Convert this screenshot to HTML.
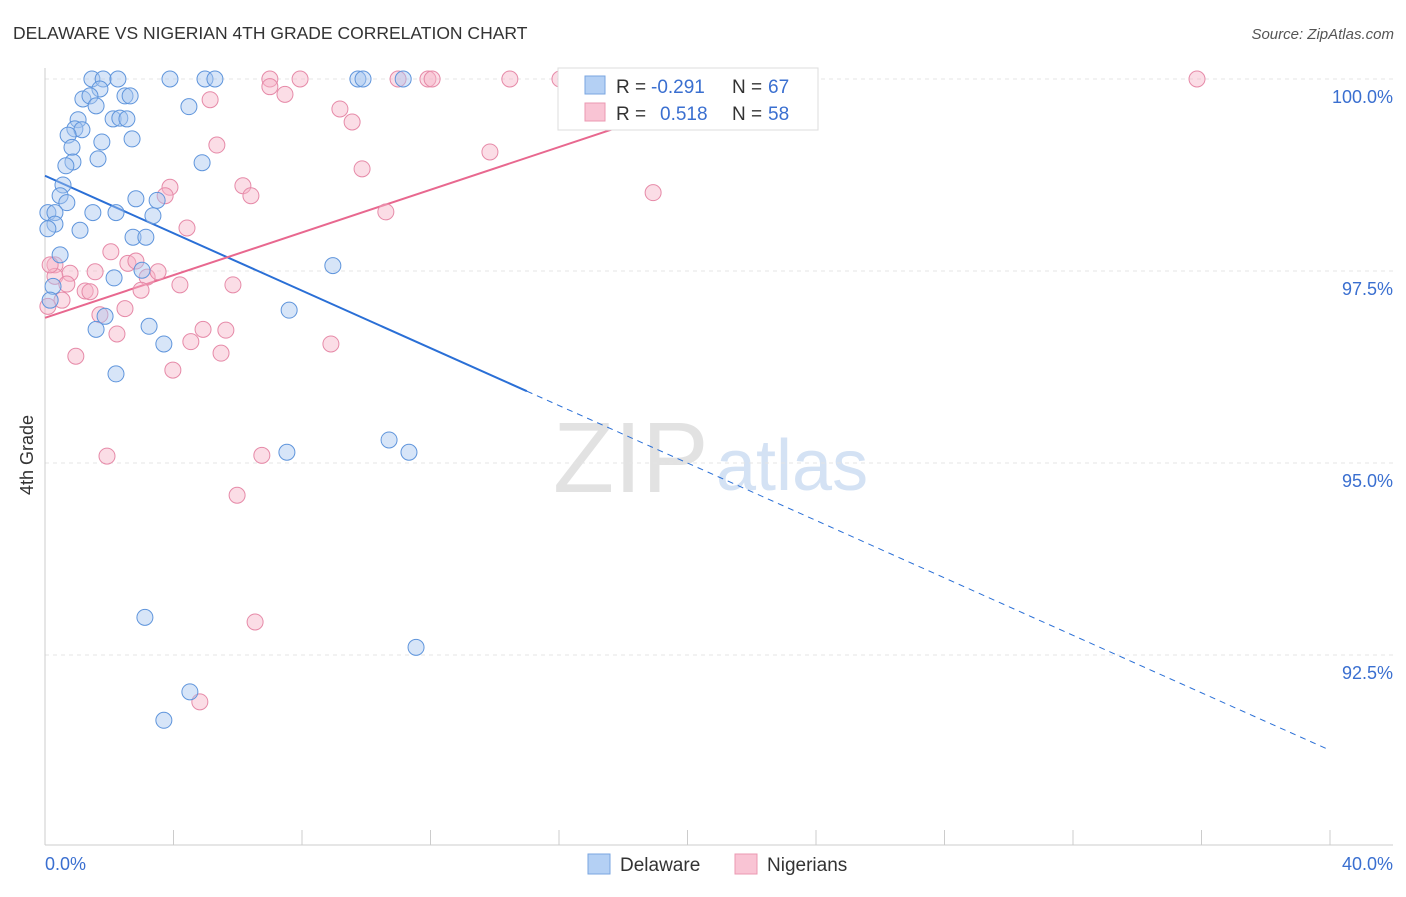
<!DOCTYPE html>
<html><head><meta charset="utf-8"><style>
body{margin:0;background:#fff;font-family:"Liberation Sans",sans-serif}
svg text{font-family:"Liberation Sans",sans-serif}
</style></head><body>
<svg id="c" width="1406" height="892" xmlns="http://www.w3.org/2000/svg">
<text x="13" y="39" font-size="17.5" fill="#333">DELAWARE VS NIGERIAN 4TH GRADE CORRELATION CHART</text>
<text x="1394" y="39" font-size="15" fill="#555" font-style="italic" text-anchor="end">Source: ZipAtlas.com</text>
<text x="33" y="455" font-size="18" fill="#333" transform="rotate(-90 33 455)" text-anchor="middle">4th Grade</text>
<g>
<text x="553" y="492" font-size="100" font-family="Liberation Serif,serif" fill="#e2e2e2">ZIP</text>
<text x="716" y="490" font-size="72" fill="#d4e2f4">atlas</text>
</g>
<g id="grid"></g><g id="axes"></g><g id="lines"></g><g id="pts"></g>
<g>
<rect x="558" y="68" width="260" height="62" fill="#fff" stroke="#ddd"/>
<rect x="585" y="76" width="20" height="18" fill="#b4d0f4" stroke="#7aa6e0"/>
<text x="616" y="93" font-size="19" fill="#333">R =</text>
<text x="651" y="93" font-size="19" fill="#3a6fd0">-0.291</text>
<text x="732" y="93" font-size="19" fill="#333">N =</text>
<text x="768" y="93" font-size="19" fill="#3a6fd0">67</text>
<rect x="585" y="103" width="20" height="18" fill="#f9c4d4" stroke="#eb98b2"/>
<text x="616" y="120" font-size="19" fill="#333">R =</text>
<text x="660" y="120" font-size="19" fill="#3a6fd0">0.518</text>
<text x="732" y="120" font-size="19" fill="#333">N =</text>
<text x="768" y="120" font-size="19" fill="#3a6fd0">58</text>
</g>
<g>
<rect x="588" y="854" width="22" height="20" fill="#b4d0f4" stroke="#7aa6e0"/>
<text x="620" y="871" font-size="19" fill="#333">Delaware</text>
<rect x="735" y="854" width="22" height="20" fill="#f9c4d4" stroke="#eb98b2"/>
<text x="767" y="871" font-size="19" fill="#333">Nigerians</text>
</g>
</svg>
<script>
const yTicks=[100,97.5,95,92.5];
const yTickLabels=["100.0%","97.5%","95.0%","92.5%"];
const xTickLabels=["0.0%","40.0%"];
const blueX=[1.46,1.81,2.27,3.89,4.98,5.29,9.74,9.90,11.15,1.71,1.18,1.40,1.59,2.49,2.65,4.48,1.03,2.12,2.33,2.55,0.93,1.15,0.72,0.84,1.77,2.71,1.65,0.87,0.65,4.89,0.56,0.47,0.68,0.09,0.31,1.49,2.21,2.83,3.49,3.36,0.31,1.09,0.09,2.74,3.14,0.47,3.02,2.15,8.96,0.25,7.60,3.24,1.59,1.87,3.70,2.21,10.71,11.33,7.53,3.11,11.55,4.51,3.70,0.16];
const blueY=[100,100,100,100,100,100,100,100,100,99.87,99.74,99.78,99.65,99.78,99.78,99.64,99.47,99.48,99.49,99.48,99.35,99.34,99.27,99.11,99.18,99.22,98.96,98.92,98.87,98.91,98.62,98.48,98.39,98.26,98.26,98.26,98.26,98.44,98.42,98.22,98.11,98.03,98.05,97.94,97.94,97.71,97.51,97.41,97.57,97.30,96.99,96.78,96.74,96.91,96.55,96.16,95.30,95.14,95.14,92.99,92.60,92.02,91.65,97.12];
const pinkX=[7.00,7.94,10.99,11.92,12.05,14.47,16.03,16.50,18.43,35.86,7.00,7.47,5.14,9.18,9.56,5.35,13.85,9.87,6.16,3.89,6.41,3.74,18.93,10.61,4.42,2.05,0.31,0.78,1.56,2.58,2.83,3.18,3.52,0.31,0.68,1.25,4.20,5.85,2.99,1.40,0.53,0.09,2.49,1.71,2.24,4.92,5.63,4.54,8.90,0.96,5.48,3.98,1.93,6.75,5.98,6.54,4.82,0.16];
const pinkY=[100,100,100,100,100,100,100,100,100,100,99.90,99.80,99.73,99.61,99.44,99.14,99.05,98.83,98.61,98.59,98.48,98.48,98.52,98.27,98.06,97.75,97.58,97.47,97.49,97.60,97.63,97.42,97.49,97.43,97.33,97.24,97.32,97.32,97.25,97.23,97.12,97.04,97.01,96.93,96.68,96.74,96.73,96.58,96.55,96.39,96.43,96.21,95.09,95.10,94.58,92.93,91.89,97.58];
const blueFit=[98.74,91.26];
const pinkFit=[96.89,0.139];
const NS="http://www.w3.org/2000/svg";
const X=v=>45+v*32.125, Y=v=>79+(100-v)*76.8;
function mk(t,a,p){const e=document.createElementNS(NS,t);for(const k in a)e.setAttribute(k,a[k]);p.appendChild(e);return e;}
const grid=document.getElementById('grid'),axes=document.getElementById('axes'),lines=document.getElementById('lines'),pts=document.getElementById('pts');
yTicks.forEach((t,i)=>{
 const l=mk('line',{x1:45,x2:1393,y1:Y(t),y2:Y(t),stroke:'#e4e4e4','stroke-dasharray':'4,4'},grid);
 
 
 const tx=mk('text',{x:1393,y:Y(t)+24,'font-size':18,fill:'#3a6fd0','text-anchor':'end'},axes);
 tx.textContent=yTickLabels[i];
 
 
});
const ya=mk('line',{x1:45,x2:45,y1:68,y2:845,stroke:'#ccc'},axes);


const xa=mk('line',{x1:45,x2:1393,y1:845,y2:845,stroke:'#ccc'},axes);


for(let i=0;i<=10;i++){
 const tk=mk('line',{x1:X(i*4),x2:X(i*4),y1:830,y2:845,stroke:'#ccc'},axes);
 
 
}
[[0,'start',45],[40,'end',1393]].forEach((d,i)=>{
 const tx=mk('text',{x:d[2],y:870,'font-size':18,fill:'#3a6fd0','text-anchor':d[1]},axes);
 tx.textContent=xTickLabels[i];
 
 
});
function pt(xs,ys,fill,stroke,name){xs.forEach((x,i)=>{
 const c=mk('circle',{cx:X(x),cy:Y(ys[i]),r:8,fill:fill,'fill-opacity':0.45,stroke:stroke,'stroke-width':1},pts);
 
 
});}
pt(pinkX,pinkY,'#f7b3c8','#e68aa8','nigerians-point');
pt(blueX,blueY,'#a6c6f0','#5f95dc','delaware-point');
const bAt=x=>blueFit[0]+(blueFit[1]-blueFit[0])*x/40;
const b1=mk('line',{x1:X(0),y1:Y(bAt(0)),x2:X(15),y2:Y(bAt(15)),stroke:'#2a6fd6','stroke-width':2},lines);


const b2=mk('line',{x1:X(15),y1:Y(bAt(15)),x2:X(40),y2:Y(bAt(40)),stroke:'#2a6fd6','stroke-width':1,'stroke-dasharray':'6,5'},lines);


const pAt=x=>pinkFit[0]+pinkFit[1]*x;
const p1=mk('line',{x1:X(0),y1:Y(pAt(0)),x2:X(22.26),y2:Y(pAt(22.26)),stroke:'#e8688f','stroke-width':2},lines);


</script>
</body></html>
